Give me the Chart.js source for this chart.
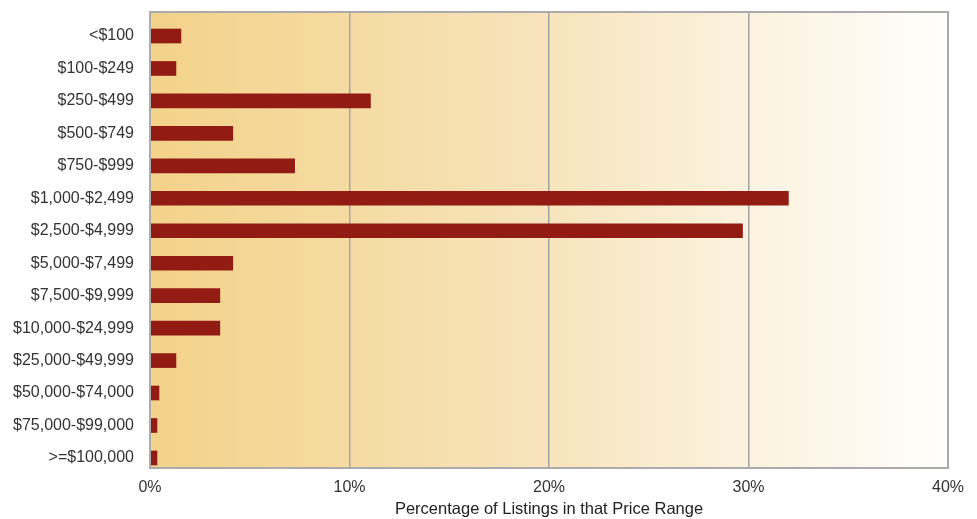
<!DOCTYPE html>
<html>
<head>
<meta charset="utf-8">
<script src="https://cdn.jsdelivr.net/npm/chart.js@4"></script>
<style>
html,body{margin:0;padding:0;background:#fff;}
canvas{display:block;}
</style>
</head>
<body>
<canvas id="c" width="977" height="519"></canvas>
<script>
const categories = ["<$100","$100-$249","$250-$499","$500-$749","$750-$999","$1,000-$2,499","$2,500-$4,999","$5,000-$7,499","$7,500-$9,999","$10,000-$24,999","$25,000-$49,999","$50,000-$74,000","$75,000-$99,000",">=$100,000"];
const percentages = [1.55, 1.3, 11.05, 4.15, 7.25, 32.0, 29.7, 4.15, 3.5, 3.5, 1.3, 0.45, 0.35, 0.35];
const xTicks = [0, 10, 20, 30, 40];
const axisTitle = "Percentage of Listings in that Price Range";

const FONT = "'Liberation Sans', Arial, Helvetica, sans-serif";

const bgPlugin = {
  id: 'bg',
  beforeDraw(chart) {
    const {ctx, chartArea: a} = chart;
    const g = ctx.createLinearGradient(a.left, 0, a.right, 0);
    g.addColorStop(0, '#F3D28A');
    g.addColorStop(0.25, '#F5DBA2');
    g.addColorStop(0.5, '#F7E4BD');
    g.addColorStop(0.75, '#FBF2DF');
    g.addColorStop(1, '#FFFEFC');
    ctx.save();
    ctx.fillStyle = g;
    ctx.fillRect(a.left, a.top, a.right - a.left, a.bottom - a.top);
    ctx.restore();
  },
  afterDatasetsDraw(chart) {
    const {ctx, chartArea: a} = chart;
    ctx.save();
    ctx.strokeStyle = '#ababab';
    ctx.lineWidth = 2;
    ctx.strokeRect(a.left, a.top, a.right - a.left, a.bottom - a.top);
    ctx.restore();
  }
};

new Chart(document.getElementById('c'), {
  type: 'bar',
  data: {
    datasets: [{
      data: percentages.map((v, i) => ({x: v, y: i})),
      backgroundColor: '#921C14',
      borderWidth: 0,
      barThickness: 14
    }]
  },
  options: {
    responsive: false,
    animation: false,
    indexAxis: 'y',
    layout: {padding: {top: 12, right: 29, left: 0, bottom: 0}},
    plugins: {legend: {display: false}, tooltip: {enabled: false}},
    scales: {
      x: {
        type: 'linear',
        min: 0, max: 40,
        afterBuildTicks: s => { s.ticks = xTicks.map(v => ({value: v})); },
        afterFit: s => { s.height = 51; s.paddingLeft = 0; s.paddingRight = 0; },
        grid: {display: true, color: '#a3a3a3', lineWidth: 1.5, drawTicks: false},
        border: {display: false},
        ticks: {
          padding: 10,
          color: '#333',
          font: {family: FONT, size: 16},
          callback: v => v + '%',
          maxRotation: 0
        },
        title: {
          display: true,
          text: axisTitle,
          color: '#222',
          font: {family: FONT, size: 16.5},
          padding: {top: 2, bottom: 0}
        }
      },
      y: {
        type: 'linear',
        reverse: true,
        offset: false,
        min: -0.74, max: 13.31,
        afterBuildTicks: s => { s.ticks = categories.map((c, i) => ({value: i})); },
        afterFit: s => { s.width = 150; s.paddingTop = 0; s.paddingBottom = 0; },
        grid: {display: false, drawTicks: false},
        border: {display: false},
        ticks: {
          padding: 16,
          color: '#333',
          font: {family: FONT, size: 16},
          callback: v => categories[v] !== undefined ? categories[v] : ''
        }
      }
    }
  },
  plugins: [bgPlugin]
});
</script>
</body>
</html>
